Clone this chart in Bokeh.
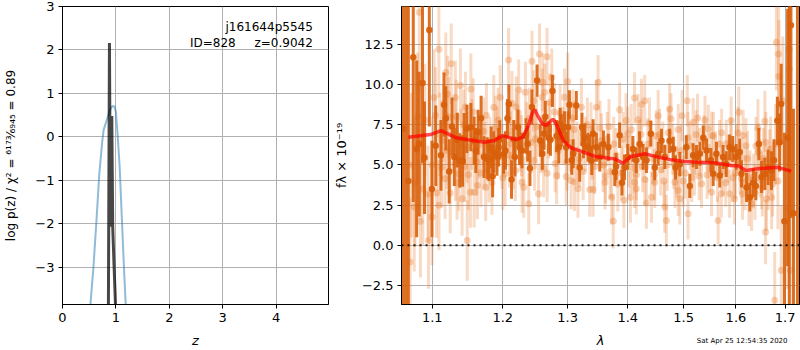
import numpy as np
from bokeh.plotting import figure
from bokeh.layouts import row
from bokeh.models import FixedTicker, Label, Span, ColumnDataSource, CustomJSTickFormatter, Title
from bokeh.embed import file_html
from bokeh.resources import INLINE

FONT = "DejaVu Sans"

# ---------------- left panel: redshift PDF ----------------
z_coarse = [0.50, 0.58, 0.64, 0.69, 0.74, 0.77, 0.83, 0.89, 0.935, 0.97, 1.00, 1.03, 1.07, 1.11, 1.15, 1.20]
logp_coarse = [-4.2, -2.99, -1.84, -0.84, -0.15, 0.16, 0.39, 0.62, 0.71, 0.70, 0.58, 0.08, -0.69, -1.84, -2.99, -4.3]
z_fine = [0.858, 0.879, 0.897, 0.923, 0.940, 0.966, 1.005]
logp_fine = [-4.3, 2.16, -2.07, 0.48, -2.07, -2.99, -4.3]
z_ticks = [0, 1, 2, 3, 4]
logp_ticks = [-3, -2, -1, 0, 1, 2, 3]

# ---------------- right panel: spectrum ----------------
wave_dark = [1.0612, 1.0645, 1.0680, 1.0745, 1.0790, 1.0825, 1.0868, 1.0895, 1.0960, 1.0995,
             1.1047, 1.1118, 1.1160, 1.1185, 1.1232, 1.1270, 1.1303, 1.1345, 1.1380, 1.1420,
             1.1441, 1.1480, 1.1536, 1.1583, 1.1607, 1.1640, 1.1683, 1.1725, 1.1772, 1.1796,
             1.1829, 1.1850, 1.1867, 1.1914, 1.1938, 1.1955, 1.2011, 1.2040, 1.2070, 1.2090,
             1.2130, 1.2162, 1.2180, 1.2227, 1.2250, 1.2288, 1.2348, 1.2374, 1.2409, 1.2439,
             1.2518, 1.2567, 1.2600, 1.2627, 1.2647, 1.2697, 1.2727, 1.2758, 1.2824, 1.2859,
             1.2879, 1.2900, 1.2950, 1.2975, 1.3007, 1.3028, 1.3066, 1.3089, 1.3139, 1.3194,
             1.3232, 1.3255, 1.3277, 1.3331, 1.3360, 1.3392, 1.3414, 1.3470, 1.3525, 1.3586,
             1.3669, 1.3778, 1.3800, 1.3861, 1.3901, 1.3944, 1.4000, 1.4089, 1.4148, 1.4207,
             1.4268, 1.4327, 1.4404, 1.4475, 1.4536, 1.4595, 1.4654, 1.4743, 1.4809, 1.4850,
             1.4929, 1.5049, 1.5114, 1.5177, 1.5240, 1.5304, 1.5367, 1.5430, 1.5513, 1.5557,
             1.5620, 1.5684, 1.5747, 1.5810, 1.5875, 1.5937, 1.6004, 1.6075, 1.6109, 1.6210,
             1.6277, 1.6344, 1.6398, 1.6459, 1.6514, 1.6581, 1.6648, 1.6717, 1.6769, 1.6838,
             1.6885, 1.6919, 1.6986, 1.7053, 1.7088, 1.7123, 1.7177, 1.7262]
flux_dark = [7.25, 20.0, 4.0, 11.7, 6.0, 6.3, 10.1, 5.45, 13.4, 3.5,
             6.2, 5.6, 8.75, 7.9, 4.6, 7.4, 5.5, 6.55, 5.28, 5.25,
             6.63, 7.25, 7.35, 6.52, 5.9, 7.04, 7.9, 5.49, 5.42, 5.3,
             6.1, 4.3, 5.8, 5.53, 6.1, 6.58, 5.65, 5.9, 7.9, 8.8,
             4.1, 6.6, 5.49, 7.35, 6.1, 5.9, 6.8, 6.32, 4.8, 8.6,
             10.25, 6.52, 5.7, 6.94, 8.0, 6.7, 6.57, 9.6, 6.8, 6.1,
             7.56, 7.15, 7.35, 6.1, 7.35, 8.75, 5.3, 5.7, 8.7, 4.85,
             7.35, 6.32, 6.7, 6.1, 6.0, 5.28, 6.95, 6.1, 5.5, 6.3,
             6.1, 4.55, 4.9, 6.85, 3.9, 4.85, 5.5, 6.0, 5.3, 6.3,
             5.5, 5.3, 6.95, 4.85, 5.7, 6.5, 5.5, 6.5, 6.0, 4.85,
             5.05, 6.1, 3.7, 5.6, 5.5, 5.7, 6.7, 5.9, 5.3, 4.45,
             5.7, 4.35, 5.5, 5.05, 6.1, 6.0, 5.5, 5.8, 4.45, 3.6,
             3.0, 3.9, 3.7, 6.3, 4.25, 4.45, 4.85, 4.65, 5.3, 7.75,
             6.4, 8.8, 1.5, 6.7, 25.0, 13.7, 2.0, 20.0]
err_dark = [15.0, 30.0, 11.0, 9.0, 5.5, 4.5, 5.0, 3.5, 6.0, 3.0,
            2.5, 2.2, 2.0, 2.0, 2.0, 1.8, 1.8, 1.7, 1.7, 1.6,
            1.6, 1.5, 1.5, 1.5, 1.4, 1.4, 1.4, 1.3, 1.3, 1.3,
            1.3, 1.3, 1.3, 1.2, 1.2, 1.2, 1.2, 1.2, 1.2, 1.2,
            1.2, 1.2, 1.2, 1.1, 1.1, 1.1, 1.1, 1.1, 1.1, 1.1,
            1.0, 1.0, 1.0, 1.0, 1.0, 1.0, 1.0, 1.0, 1.0, 1.0,
            1.0, 1.0, 1.0, 1.0, 1.0, 0.9, 0.9, 0.9, 0.9, 0.9,
            0.9, 0.9, 0.9, 0.9, 0.9, 0.9, 0.9, 0.9, 0.9, 0.85,
            0.85, 0.85, 0.85, 0.8, 0.8, 0.8, 0.8, 0.8, 0.8, 0.8,
            0.8, 0.8, 0.8, 0.8, 0.75, 0.75, 0.75, 0.75, 0.75, 0.75,
            0.75, 0.75, 0.75, 0.75, 0.75, 0.75, 0.75, 0.75, 0.75, 0.75,
            0.75, 0.75, 0.75, 0.8, 0.8, 0.8, 0.8, 0.85, 0.85, 0.9,
            0.9, 0.9, 0.9, 1.0, 1.0, 1.0, 1.1, 1.2, 1.3, 1.5,
            1.8, 2.5, 5.5, 8.0, 40.0, 12.0, 6.5, 35.0]

wave_light = [1.0703, 1.0758, 1.0767, 1.0826, 1.0840, 1.0873, 1.0941, 1.0949, 1.0996, 1.1024,
              1.1043, 1.1057, 1.1090, 1.1092, 1.1128, 1.1130, 1.1175, 1.1185, 1.1223, 1.1246,
              1.1260, 1.1317, 1.1319, 1.1341, 1.1365, 1.1388, 1.1412, 1.1459, 1.1483, 1.1485,
              1.1530, 1.1536, 1.1583, 1.1630, 1.1654, 1.1725, 1.1749, 1.1796, 1.1867, 1.1914,
              1.1962, 1.2036, 1.2086, 1.2112, 1.2136, 1.2188, 1.2212, 1.2238, 1.2288, 1.2314,
              1.2340, 1.2390, 1.2440, 1.2466, 1.2491, 1.2541, 1.2556, 1.2597, 1.2606, 1.2636,
              1.2673, 1.2675, 1.2748, 1.2824, 1.2950, 1.2976, 1.3000, 1.3056, 1.3111, 1.3166,
              1.3222, 1.3359, 1.3414, 1.3470, 1.3497, 1.3553, 1.3613, 1.3724, 1.3752, 1.3861,
              1.3934, 1.3972, 1.4000, 1.4046, 1.4118, 1.4120, 1.4148, 1.4179, 1.4238, 1.4296,
              1.4327, 1.4416, 1.4475, 1.4536, 1.4654, 1.4684, 1.4743, 1.4768, 1.4839, 1.4898,
              1.4929, 1.4970, 1.5068, 1.5082, 1.5177, 1.5259, 1.5335, 1.5462, 1.5525, 1.5527,
              1.5652, 1.5715, 1.5810, 1.5875, 1.5905, 1.5970, 1.6055, 1.6109, 1.6142, 1.6257,
              1.6312, 1.6445, 1.6514, 1.6581, 1.6595, 1.6615, 1.6783, 1.6818, 1.6864, 1.6870,
              1.6919, 1.6952, 1.7053, 1.7088, 1.7090, 1.7109,
              1.0720, 1.0800, 1.0900, 1.1000, 1.1100, 1.1200, 1.1400, 1.1450, 1.1550, 1.1620,
              1.1720, 1.1810, 1.1890, 1.1990, 1.2060, 1.2150, 1.2260, 1.2360, 1.2430, 1.2510,
              1.2580, 1.2700, 1.2790, 1.2850, 1.2920, 1.3040, 1.3100, 1.3190, 1.3290, 1.3380,
              1.3440, 1.3580, 1.3650, 1.3700, 1.3800, 1.3890, 1.4020, 1.4090, 1.4200, 1.4260,
              1.4350, 1.4440, 1.4500, 1.4580, 1.4620, 1.4700, 1.4800, 1.4870, 1.4950, 1.5030,
              1.5120, 1.5200, 1.5300, 1.5380, 1.5440, 1.5600, 1.5680, 1.5750, 1.5840, 1.5940,
              1.6010, 1.6080, 1.6180, 1.6230, 1.6350, 1.6400, 1.6480, 1.6550, 1.6650, 1.6700,
              1.6740,
              1.1150, 1.1210, 1.1290, 1.1330, 1.1430, 1.1500, 1.1570, 1.1680, 1.1760, 1.1840,
              1.1930, 1.2000, 1.2100, 1.2200, 1.2280, 1.2400, 1.2480, 1.2620, 1.2720, 1.2800,
              1.2880, 1.2990, 1.3080, 1.3150, 1.3250, 1.3320, 1.3400, 1.3530, 1.3620, 1.3680,
              1.3760, 1.3830, 1.3920, 1.4060, 1.4150, 1.4230, 1.4300, 1.4380, 1.4470, 1.4560,
              1.4640, 1.4720, 1.4820, 1.4900, 1.4990, 1.5080, 1.5150, 1.5230, 1.5290, 1.5400,
              1.5480, 1.5560, 1.5640, 1.5720, 1.5800, 1.5900, 1.5990, 1.6040, 1.6130, 1.6200,
              1.6280, 1.6380, 1.6440, 1.6530, 1.6600, 1.6680, 1.6720, 1.6800, 1.6850]
flux_light = [-1.04, 2.38, 3.9, 14.5, 1.5, 3.5, 3.2, 0.3, 1.76, 9.2,
              8.1, 3.25, 12.2, 2.5, 4.86, 6.52, 4.14, 10.75, 7.97, 3.25,
              11.3, 9.2, 5.07, 3.9, 4.45, 9.95, 2.9, 8.6, 6.1, 0.3,
              3.3, 9.73, 3.31, 3.73, 6.27, 5.59, 3.62, 4.66, 8.59, 6.63,
              9.21, 4.45, 11.53, 6.32, 8.84, 4.66, 7.56, 9.67, 3.93, 3.62,
              9.52, 2.59, 11.45, 9.0, 6.63, 3.21, 11.9, 9.21, 10.15, 9.52,
              11.74, 4.49, 10.45, 4.35, 9.21, 4.29, 10.2, 4.04, 3.93, 3.52,
              8.59, 3.48, 3.48, 8.59, 10.14, 6.52, 3.93, 3.0, 1.51, 8.43,
              2.8, 7.76, 6.94, 3.0, 9.17, 3.93, 3.52, 7.81, 8.76, 9.0,
              2.63, 3.0, 3.93, 8.07, 2.38, 1.55, 8.49, 7.87, 3.93, 3.42,
              2.9, 8.07, 9.0, 1.97, 7.66, 7.93, 3.83, 7.25, 3.31, 6.83,
              1.55, 3.21, 6.32, 3.21, 7.76, 2.9, 8.28, 4.14, 6.83, 2.9,
              2.59, 5.8, 4.04, 7.72, 0.83, 2.9, -3.42, 12.63, 11.9, 10.5,
              -1.55, 9.0, 2.28, 12.2, 10.97, -1.55,
              5.0, 8.0, 7.8, 5.0, 6.9, 5.9, 6.2, 4.9, 6.9, 5.2,
              7.1, 6.0, 7.3, 5.5, 6.9, 5.4, 6.5, 7.0, 6.4, 7.4,
              6.3, 7.2, 8.3, 5.9, 6.8, 6.4, 7.2, 5.4, 6.3, 7.2,
              4.9, 5.0, 6.6, 4.6, 5.6, 4.5, 5.2, 4.8, 6.2, 4.9,
              6.3, 5.4, 6.8, 4.7, 6.1, 5.0, 6.0, 4.6, 5.9, 4.5,
              6.2, 4.6, 5.8, 6.6, 4.4, 5.6, 6.3, 4.6, 5.4, 4.2,
              5.9, 4.8, 3.9, 5.4, 4.0, 6.2, 4.8, 5.4, 4.2, 6.0,
              3.8,
              7.6, 9.4, 6.9, 8.0, 7.5, 4.4, 8.3, 4.5, 8.1, 3.9,
              7.8, 4.2, 5.6, 8.6, 6.2, 7.9, 5.3, 4.8, 8.9, 5.1,
              8.2, 5.2, 7.9, 5.9, 4.6, 7.5, 5.8, 7.3, 4.3, 7.4,
              6.3, 3.8, 6.6, 7.2, 4.4, 6.9, 4.1, 7.6, 4.4, 6.9,
              4.0, 7.0, 5.1, 7.2, 4.0, 6.7, 4.2, 6.9, 4.3, 7.8,
              4.8, 6.8, 4.2, 7.0, 3.9, 6.4, 4.5, 7.0, 3.2, 6.2,
              4.2, 3.3, 7.3, 3.6, 6.4, 5.2, 3.0, 6.3, 4.0]
err_light = [4.0, 4.0, 4.0, 5.0, 3.5, 3.5, 3.0, 3.0, 3.0, 3.0,
             3.0, 2.8, 3.0, 2.8, 2.5, 2.5, 2.5, 2.5, 2.5, 2.5,
             2.5, 2.3, 2.3, 2.3, 2.3, 2.3, 2.3, 2.2, 2.2, 2.5,
             2.2, 2.2, 2.2, 2.1, 2.1, 2.1, 2.1, 2.0, 2.0, 2.0,
             2.0, 2.0, 2.0, 2.0, 2.0, 1.9, 1.9, 1.9, 1.9, 1.9,
             1.9, 1.9, 1.9, 1.9, 1.9, 1.9, 1.9, 1.8, 1.8, 1.8,
             1.8, 1.8, 1.8, 1.8, 1.8, 1.8, 1.8, 1.8, 1.8, 1.8,
             1.8, 1.7, 1.7, 1.7, 1.7, 1.7, 1.7, 1.7, 1.7, 1.7,
             1.7, 1.7, 1.7, 1.6, 1.6, 1.6, 1.6, 1.6, 1.6, 1.6,
             1.6, 1.6, 1.6, 1.6, 1.6, 1.6, 1.6, 1.6, 1.6, 1.6,
             1.6, 1.6, 1.6, 1.6, 1.5, 1.5, 1.5, 1.5, 1.5, 1.5,
             1.5, 1.5, 1.5, 1.5, 1.5, 1.6, 1.6, 1.6, 1.6, 1.7,
             1.7, 1.8, 1.8, 1.9, 2.0, 2.0, 3.0, 3.0, 3.5, 3.5,
             4.0, 4.0, 5.0, 6.0, 6.0, 6.0,
             4.5, 4.0, 3.5, 3.0, 2.6, 2.4, 2.3, 2.2, 2.2, 2.1,
             2.1, 2.0, 2.0, 2.0, 2.0, 1.9, 1.9, 1.9, 1.9, 1.9,
             1.8, 1.8, 1.8, 1.8, 1.8, 1.8, 1.8, 1.8, 1.7, 1.7,
             1.7, 1.7, 1.7, 1.7, 1.7, 1.7, 1.6, 1.6, 1.6, 1.6,
             1.6, 1.6, 1.6, 1.6, 1.6, 1.6, 1.6, 1.6, 1.6, 1.6,
             1.5, 1.5, 1.5, 1.5, 1.5, 1.5, 1.5, 1.5, 1.5, 1.5,
             1.6, 1.6, 1.7, 1.7, 1.7, 1.8, 1.8, 1.9, 2.0, 2.0,
             2.0,
             2.4, 2.4, 2.3, 2.3, 2.2, 2.2, 2.1, 2.1, 2.0, 2.0,
             2.0, 2.0, 2.0, 1.9, 1.9, 1.9, 1.9, 1.8, 1.8, 1.8,
             1.8, 1.8, 1.8, 1.8, 1.8, 1.7, 1.7, 1.7, 1.7, 1.7,
             1.7, 1.7, 1.7, 1.6, 1.6, 1.6, 1.6, 1.6, 1.6, 1.6,
             1.6, 1.6, 1.6, 1.6, 1.6, 1.6, 1.5, 1.5, 1.5, 1.5,
             1.5, 1.5, 1.5, 1.5, 1.5, 1.5, 1.6, 1.6, 1.6, 1.7,
             1.7, 1.7, 1.8, 1.8, 1.9, 2.0, 2.0, 2.5, 3.0]

wave_model = [1.068, 1.0976, 1.1118, 1.1331, 1.1498, 1.1735, 1.1877, 1.1996, 1.2071, 1.2197,
              1.2299, 1.2375, 1.2450, 1.2485, 1.2526, 1.2602, 1.2662, 1.2753, 1.2779, 1.2829,
              1.2931, 1.3056, 1.3255, 1.3447, 1.3613, 1.3778, 1.3917, 1.4059, 1.4296, 1.4536,
              1.4773, 1.5011, 1.5266, 1.5582, 1.5899, 1.6050, 1.6196, 1.6433, 1.6838, 1.7129]
flux_model = [6.73, 6.89, 7.14, 6.69, 6.57, 6.42, 6.52, 6.83, 6.73, 6.58,
              6.73, 7.35, 8.28, 8.43, 8.07, 7.56, 7.45, 7.81, 7.81, 7.45,
              6.52, 6.07, 5.80, 5.53, 5.45, 5.38, 5.11, 5.53, 5.70, 5.49,
              5.32, 5.22, 5.17, 5.14, 4.97, 4.93, 4.66, 4.76, 4.86, 4.62]

wave_ticks = [1.1, 1.2, 1.3, 1.4, 1.5, 1.6, 1.7]
flux_ticks = [-2.5, 0.0, 2.5, 5.0, 7.5, 10.0, 12.5]

DARK = "#d8600c"
LIGHT = "#e8792a"


def fmt(nd):
    return CustomJSTickFormatter(code="return tick.toFixed(%d).replace('-', '\\u2212');" % nd)


def style(p):
    p.outline_line_color = "black"
    p.outline_line_width = 1
    p.outline_line_alpha = 1
    p.background_fill_color = "white"
    p.border_fill_color = "white"
    for ax in p.axis:
        ax.major_label_text_font = FONT
        ax.major_label_text_font_size = "13px"
        ax.major_label_text_color = "black"
        ax.axis_label_text_font = FONT
        ax.axis_label_text_font_size = "13px"
        ax.axis_label_text_color = "black"
        ax.axis_label_text_font_style = "normal"
        ax.minor_tick_line_color = None
        ax.major_tick_in = 0
        ax.major_tick_out = 4
        ax.major_tick_line_color = "black"
        ax.axis_line_color = "black"
        ax.major_label_standoff = 4
    for g in p.grid:
        g.grid_line_color = "#b0b0b0"
        g.grid_line_width = 1


# ---------------- left figure ----------------
p1 = figure(width=330, height=350, x_range=(0, 4.98), y_range=(-3.86, 3.0),
            output_backend="svg", toolbar_location=None,
            min_border_left=62, min_border_right=2, min_border_top=6, min_border_bottom=46)
style(p1)
p1.xaxis.ticker = FixedTicker(ticks=z_ticks)
p1.yaxis.ticker = FixedTicker(ticks=logp_ticks)
p1.xgrid.ticker = FixedTicker(ticks=z_ticks)
p1.ygrid.ticker = FixedTicker(ticks=logp_ticks)
p1.xaxis.formatter = fmt(0)
p1.yaxis.formatter = fmt(0)
p1.xaxis.axis_label = "z"
p1.xaxis.axis_label_text_font_style = "italic"
p1.xaxis.axis_label_standoff = 8
p1.yaxis.axis_label = "log p(z) / χ² = ⁶¹⁷³⁄₆₉₄₅ = 0.89"
p1.yaxis.axis_label_text_font_size = "12px"
p1.yaxis.axis_label_standoff = 14

p1.line(z_coarse, logp_coarse, line_color="#1f77b4", line_alpha=0.5, line_width=2)
p1.line(z_fine, logp_fine, line_color="black", line_alpha=0.72, line_width=3)

p1.add_layout(Label(x=4.686, y=2.525, text="j161644p5545", text_align="right",
                    text_baseline="alphabetic", text_font=FONT, text_font_size="12px", text_color="black"))
p1.add_layout(Label(x=2.387, y=2.17, text="ID=828", text_align="left",
                    text_baseline="alphabetic", text_font=FONT, text_font_size="12px", text_color="black"))
p1.add_layout(Label(x=4.686, y=2.17, text="z=0.9042", text_align="right",
                    text_baseline="alphabetic", text_font=FONT, text_font_size="12px", text_color="black"))

# ---------------- right figure ----------------
p2 = figure(width=470, height=350, x_axis_type="log", x_range=(1.059, 1.7305), y_range=(-3.68, 14.86),
            output_backend="svg", toolbar_location=None,
            min_border_left=69, min_border_right=1, min_border_top=6, min_border_bottom=46)
style(p2)
p2.xaxis.ticker = FixedTicker(ticks=wave_ticks)
p2.yaxis.ticker = FixedTicker(ticks=flux_ticks)
p2.xgrid.ticker = FixedTicker(ticks=wave_ticks)
p2.ygrid.ticker = FixedTicker(ticks=flux_ticks)
p2.xaxis.formatter = fmt(1)
p2.yaxis.formatter = fmt(1)
p2.xaxis.axis_label = "λ"
p2.xaxis.axis_label_text_font_style = "italic"
p2.xaxis.axis_label_standoff = 8
p2.yaxis.axis_label = "fλ × 10⁻¹⁹"
p2.yaxis.axis_label_standoff = 10

wl = np.array(wave_light)
fl = np.array(flux_light)
el = np.array(err_light)
src_l = ColumnDataSource(dict(x=wl, y=fl, lo=fl - el, hi=fl + el))
p2.segment(x0="x", y0="lo", x1="x", y1="hi", source=src_l, line_color=LIGHT, line_alpha=0.28, line_width=3)
p2.scatter(x="x", y="y", source=src_l, marker="circle", size=7, fill_color=LIGHT, fill_alpha=0.33, line_color=None)

wd = np.array(wave_dark)
fd = np.array(flux_dark)
ed = np.array(err_dark)
src_d = ColumnDataSource(dict(x=wd, y=fd, lo=fd - ed, hi=fd + ed))
p2.segment(x0="x", y0="lo", x1="x", y1="hi", source=src_d, line_color=DARK, line_alpha=0.9, line_width=3)
p2.scatter(x="x", y="y", source=src_d, marker="circle", size=6.5, fill_color=DARK, fill_alpha=0.95, line_color=None)

p2.add_layout(Span(location=0, dimension="width", line_color="black", line_alpha=0.85,
                   line_width=2, line_dash="2 4"))

p2.line(wave_model, flux_model, line_color="red", line_alpha=0.7, line_width=3.5)

stamp = Title(text="Sat Apr 25 12:54:35 2020", align="right", vertical_align="top", offset=12, standoff=-28,
              text_font=FONT, text_font_size="7px", text_font_style="normal", text_color="black")
p2.add_layout(stamp, "below")

layout = row(p1, p2)

open("out.html", "w").write(file_html(layout, INLINE))
